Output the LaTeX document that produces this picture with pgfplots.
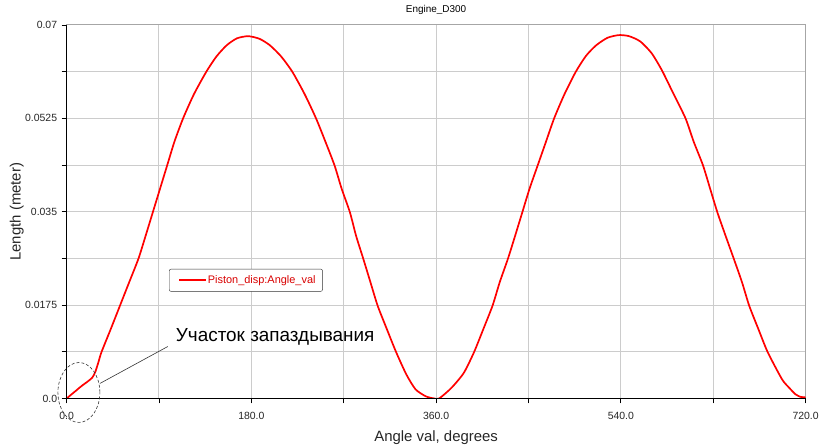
\documentclass[border=0pt]{standalone}
\usepackage{fontspec}
\setmainfont{Liberation Sans}
\usepackage{pgfplots}
\pgfplotsset{compat=1.18}

\begin{document}
\begin{tikzpicture}
\begin{axis}[name=ax,
    scale only axis,
    width=740bp, height=374bp,
    xmin=0, xmax=720, ymin=0, ymax=0.07,
    xtick={0,90,...,720},
    xticklabels={0.0,,180.0,,360.0,,540.0,,720.0},
    ytick={0,0.00875,0.0175,0.02625,0.035,0.04375,0.0525,0.06125,0.07},
    yticklabels={0.0,,0.0175,,0.035,,0.0525,,0.07},
    scaled y ticks=false,
    xtick pos=bottom, ytick pos=left,
    /pgf/number format/assume math mode=true,
    ticklabel style={font=\fontsize{10.5}{12}\selectfont, text=black!85},
    xticklabel style={yshift=-5bp},
    yticklabel style={xshift=-1bp},
    tick align=outside,
    major tick length=5bp,
    tick style={black, line width=0.8bp},
    grid=major,
    major grid style={black!20, line width=1bp},
    axis line style={black!35, line width=1bp},
    title={Engine\_D300},
    title style={at={(axis description cs:0.5,1.0179)}, anchor=base, font=\fontsize{10}{12}\selectfont},
    xlabel={Angle val, degrees},
    xlabel style={at={(axis description cs:0.5,-0.1142)}, anchor=base, font=\fontsize{15}{18}\selectfont, text=black!85},
    ylabel={Length (meter)},
    ylabel style={at={(axis description cs:-0.0622,0.5)}, anchor=base, font=\fontsize{15}{18}\selectfont, text=black!85},
    legend style={at={(axis description cs:0.1386,0.347)}, anchor=north west,
        draw=black!80, rounded corners=2bp, font=\fontsize{11}{13}\selectfont,
        text=red!85!black, inner xsep=6bp, inner ysep=4.5bp,
        nodes={inner xsep=1bp}, cells={anchor=west}},
    legend image code/.code={\path (0bp,0bp); \draw[red, line width=1.7bp] (3bp,0bp) -- (30bp,0bp);},
]
\addplot[red, line width=1.7bp, smooth, tension=0.4] coordinates {
  (0,0) (5,0.0008) (10,0.0016) (15,0.0024) (20,0.0031) (25,0.0039)
  (28,0.0050) (31,0.0068) (34,0.0087) (43,0.0130) (52,0.0174) (61,0.0218)
  (70,0.0262) (77,0.0305) (84,0.0349) (91,0.0393) (98,0.0437) (105,0.0481)
  (113.5,0.0525) (124,0.0570) (136,0.0612) (146,0.0641) (156,0.0662)
  (166,0.0675) (177,0.0679) (188,0.0674) (198,0.0662) (209,0.0641)
  (220,0.0612) (232,0.0570) (243,0.0525) (252,0.0482) (261,0.0437)
  (268,0.0393) (276,0.0349) (282,0.0305) (289,0.0262) (296,0.0218)
  (303,0.0174) (312,0.0130) (321,0.0087) (331,0.0045) (340,0.0017)
  (350,0.0004) (358,0.0) (363,0.0) (375,0.0020) (387,0.0048) (397,0.0087)
  (406,0.0130) (415,0.0174) (422,0.0218) (430,0.0262) (437,0.0305)
  (444,0.0349) (451,0.0393) (459,0.0437) (467,0.0481) (475,0.0525)
  (485,0.0570) (496,0.0612) (506,0.0642) (516,0.0662) (527,0.0676)
  (538,0.0681) (548,0.0679) (559,0.0669) (570,0.0647) (580,0.0615)
  (591,0.0572) (603,0.0525) (611,0.0481) (620,0.0437)
  (627,0.0393) (634,0.0349) (642,0.0305) (650,0.0262) (658,0.0218)
  (665,0.0174) (674,0.0130) (683,0.0087) (697,0.0036) (704,0.0020)
  (710,0.0008) (715,0.0003) (720,0.0002)
};
\addlegendentry{Piston\_disp:Angle\_val}
\end{axis}
% left and bottom axis lines in black
\draw[black, line width=1.2bp] (ax.north west) -- (ax.south west) -- (ax.south east);
% annotation of the lag region
\draw[black!80, densely dashed, line width=0.6bp] ([shift={(12.3bp,6bp)}]ax.south west) ellipse [x radius=21bp, y radius=30bp];
\draw[black!80, line width=0.6bp] ([shift={(33.3bp,15bp)}]ax.south west) -- ([shift={(101.3bp,52bp)}]ax.south west);
\node[anchor=base west, inner sep=0pt, font=\fontsize{19}{22}\selectfont]
  at ([shift={(109.3bp,57.3bp)}]ax.south west) {Участок запаздывания};
% page frame with the reference's proportions
\path ([shift={(-66.7bp,-46bp)}]ax.south west) rectangle ++(822bp,445bp);
\end{tikzpicture}
\end{document}
